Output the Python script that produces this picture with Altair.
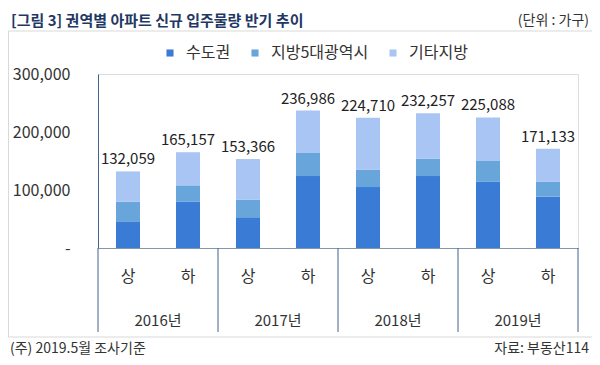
import altair as alt
import pandas as pd

periods = ["2016-상", "2016-하", "2017-상", "2017-하", "2018-상", "2018-하", "2019-상", "2019-하"]
halves = ["상", "하", "상", "하", "상", "하", "상", "하"]
years = ["2016년", "2017년", "2018년", "2019년"]
year_first = ["2016-상", "2017-상", "2018-상", "2019-상"]
series = ["수도권", "지방5대광역시", "기타지방"]
capital = [46000, 80000, 53000, 124000, 105000, 124000, 114000, 89000]
metro5 = [34000, 28000, 30000, 40000, 30000, 30000, 37000, 25000]
other = [52059, 57157, 70366, 72986, 89710, 78257, 74088, 57133]
totals = [132059, 165157, 153366, 236986, 224710, 232257, 225088, 171133]
colors = ["#3A7BD5", "#67A5DA", "#A9C5F3"]

FONT = "Noto Sans CJK KR"

rows = []
for i, p in enumerate(periods):
    for k, (s, vals) in enumerate(zip(series, [capital, metro5, other])):
        rows.append({"period": p, "series": s, "value": vals[i], "ord": k})
df = pd.DataFrame(rows)
tot_df = pd.DataFrame({"period": periods, "total": totals})
half_df = pd.DataFrame({"period": periods, "half": halves})
year_df = pd.DataFrame({"period": year_first, "year": years})

xscale = alt.Scale(domain=periods, paddingInner=0.6, paddingOuter=0.3)

bars = alt.Chart(df).mark_bar().encode(
    x=alt.X("period:N", sort=periods, scale=xscale,
            axis=alt.Axis(labels=False, ticks=False, domain=True, domainColor="#8497B0",
                          domainWidth=1, title=None)),
    y=alt.Y("value:Q", stack="zero", scale=alt.Scale(domain=[0, 300000], nice=False),
            axis=alt.Axis(values=[0, 100000, 200000, 300000],
                          labelExpr="datum.value == 0 ? '-' : format(datum.value, ',')",
                          grid=False, ticks=False, domainColor="#44618F", labelPadding=28,
                          labelFontSize=16, labelColor="#333333", labelFont=FONT, title=None)),
    color=alt.Color("series:N", sort=series, scale=alt.Scale(domain=series, range=colors),
                    legend=alt.Legend(orient="none", legendX=64, legendY=-29, direction="horizontal",
                                      title=None, symbolType="square", symbolSize=50,
                                      labelFontSize=16, labelFont=FONT, labelColor="#333333",
                                      columnPadding=16, labelOffset=8, symbolStrokeWidth=0)),
    order=alt.Order("ord:Q"),
)

labels = alt.Chart(tot_df).mark_text(fontSize=15, font=FONT, color="#222222", dy=-7,
                                     baseline="alphabetic").encode(
    x=alt.X("period:N", sort=periods, scale=xscale),
    y=alt.Y("total:Q"),
    text=alt.Text("total:Q", format=","),
)

half_txt = alt.Chart(half_df).mark_text(fontSize=16, font=FONT, color="#333333",
                                        baseline="middle").encode(
    x=alt.X("period:N", sort=periods, scale=xscale),
    y=alt.value(203),
    text="half:N",
)

year_txt = alt.Chart(year_df).mark_text(fontSize=15, font=FONT, color="#333333",
                                        baseline="middle", xOffset=30).encode(
    x=alt.X("period:N", sort=periods, scale=xscale),
    y=alt.value(247),
    text="year:N",
)

sep_left = alt.Chart(year_df).mark_rule(color="#44618F", strokeWidth=1, xOffset=-30).encode(
    x=alt.X("period:N", sort=periods, scale=xscale),
    y=alt.value(174),
    y2=alt.value(258),
)
sep_right = alt.Chart(pd.DataFrame({"period": [periods[-1]]})).mark_rule(
    color="#44618F", strokeWidth=1, xOffset=30).encode(
    x=alt.X("period:N", sort=periods, scale=xscale),
    y=alt.value(174),
    y2=alt.value(258),
)

frame = alt.Chart(pd.DataFrame({"a": [0]})).mark_rect(
    fillOpacity=0, stroke="#D9D9D9", strokeWidth=1).encode(
    x=alt.value(-89.5), x2=alt.value(494.5), y=alt.value(-43), y2=alt.value(263),
)


def note(text, x, y, size, align, weight="normal", color="#333333"):
    return alt.Chart(pd.DataFrame({"t": [text]})).mark_text(
        fontSize=size, font=FONT, align=align, baseline="alphabetic", fontWeight=weight,
        color=color).encode(text="t:N", x=alt.value(x), y=alt.value(y))


title = note("[그림 3] 권역별 아파트 신규 입주물량 반기 추이", -87, -48, 15, "left", "bold", "#1F3864")
unit = note("(단위 : 가구)", 491, -49, 14, "right")
foot_l = note("(주) 2019.5월 조사기준", -88, 279, 14, "left")
foot_r = note("자료: 부동산114", 491, 279, 14, "right")

chart = alt.layer(frame, bars, labels, half_txt, year_txt, sep_left, sep_right,
                  title, unit, foot_l, foot_r).properties(
    width=480, height=174,
    padding={"left": 90, "top": 66, "right": 14, "bottom": 109},
    autosize=alt.AutoSizeParams(type="none"),
).configure_view(stroke=None).configure(font=FONT)

chart.save("out.html", embed_options={"renderer": "svg", "actions": False})
